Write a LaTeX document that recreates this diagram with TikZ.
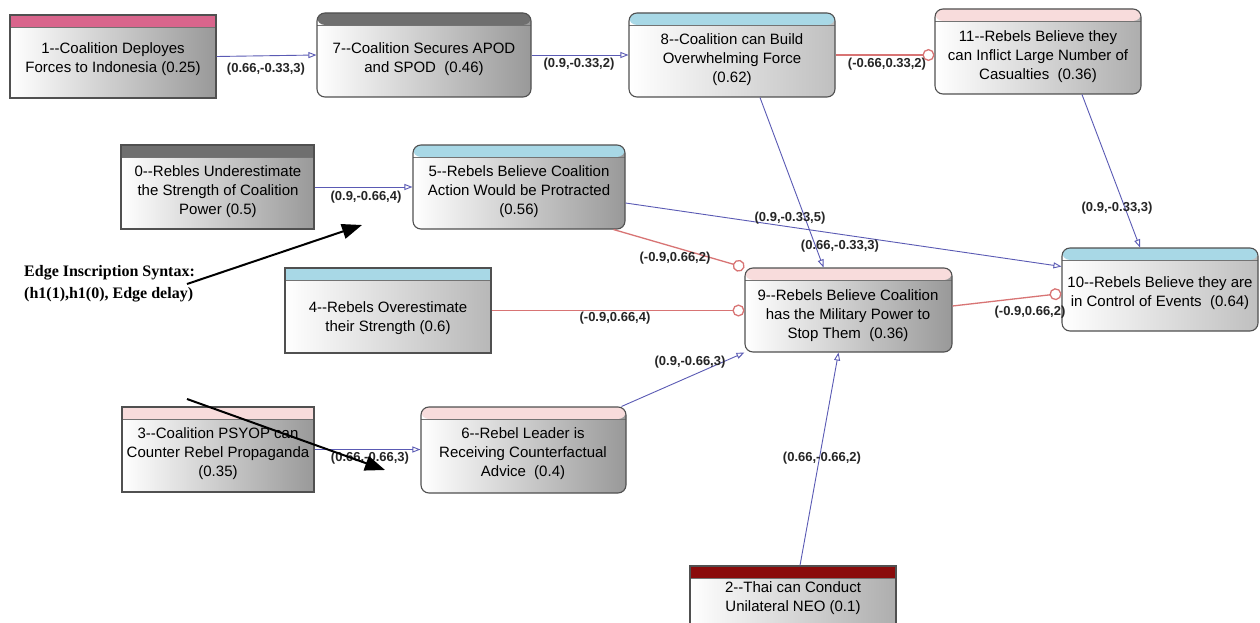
\documentclass[tikz,border=0pt]{standalone}
\usepackage{fontspec}
\setmainfont{Liberation Sans}[Ligatures=TeXOff]
\newfontfamily\annfont{Liberation Serif}
\usetikzlibrary{arrows.meta,fit}
\definecolor{hPink}{HTML}{D9658C}
\definecolor{hGray}{HTML}{6F6F6F}
\definecolor{hBlue}{HTML}{A8D8E6}
\definecolor{hLPink}{HTML}{F8DCDC}
\definecolor{hRed}{HTML}{8A0B0B}
\definecolor{eBlue}{HTML}{5A5AB4}
\definecolor{eRed}{HTML}{D87474}
\definecolor{bdr}{HTML}{505050}
\tikzset{
  box/.style={draw=bdr, line width=1.1pt, inner sep=0pt, left color=white, right color=black!#1},
  box/.default=40,
  rbox/.style={box=#1, rounded corners=8pt},
  rbox/.default=40,
  hdr/.style={path picture={
    \fill[#1] (path picture bounding box.north west) rectangle ([yshift=-12pt]path picture bounding box.north east);
    \draw[line width=0.8pt, black!55] ([yshift=-12pt]path picture bounding box.north west) -- ([yshift=-12pt]path picture bounding box.north east);}},
  txt/.style={align=center, font=\fontsize{15}{19}\selectfont, inner sep=0pt},
  lbl/.style={font=\bfseries\fontsize{13}{15}\selectfont, text=black!85, inner sep=1pt},
  bE/.style={draw=eBlue, line width=0.9pt, -{Triangle[open,length=8pt,width=6pt]}},
  rE/.style={draw=eRed, line width=1.3pt, -{Circle[open,length=12pt,width=12pt]}},
  bigarrow/.style={draw=black, line width=2pt, -{Triangle[length=20pt,width=15pt]}},
}
\begin{document}
\begin{tikzpicture}[x=1pt,y=-1pt]
\clip (0,0) rectangle (1260,623);
\fill[white] (0,0) rectangle (1260,623);
% boxes
\node[box, hdr=hPink, fit={(10,15)(216,98)}] (n1) {};
\node[rbox, hdr=hGray, fit={(317,13)(531,97)}] (n7) {};
\node[rbox=25, hdr=hBlue, fit={(629,13)(835,97)}] (n8) {};
\node[rbox=32, hdr=hLPink, fit={(935,9)(1141,94)}] (n11) {};
\node[box, hdr=hGray, fit={(121,145)(314,229)}] (n0) {};
\node[rbox, hdr=hBlue, fit={(413,145)(625,229)}] (n5) {};
\node[box=28, hdr=hBlue, fit={(285,268)(491,353)}] (n4) {};
\node[rbox, hdr=hLPink, fit={(745,268)(952,352)}] (n9) {};
\node[rbox=25, hdr=hBlue, fit={(1062,248)(1258,331)}] (n10) {};
\node[box, hdr=hLPink, fit={(122,407)(314,492)}] (n3) {};
\node[rbox, hdr=hLPink, fit={(421,407)(626,493)}] (n6) {};
\node[box=32, hdr=hRed, fit={(690,566)(896,650)}] (n2) {};
% texts
\node[txt] (t1) at (113,59) {1--Coalition Deployes\\Forces to Indonesia (0.25)};
\node[txt] (t7) at (424,59) {7--Coalition Secures APOD\\and SPOD~~(0.46)};
\node[txt] (t8) at (732,60) {8--Coalition can Build\\Overwhelming Force\\(0.62)};
\node[txt] (t11) at (1038,57) {11--Rebels Believe they\\can Inflict Large Number of\\Casualties~~(0.36)};
\node[txt] (t0) at (218,192) {0--Rebles Underestimate\\the Strength of Coalition\\Power (0.5)};
\node[txt] (t5) at (519,192) {5--Rebels Believe Coalition\\Action Would be Protracted\\(0.56)};
\node[txt] (t4) at (388,318) {4--Rebels Overestimate\\their Strength (0.6)};
\node[txt] (t9) at (848,316) {9--Rebels Believe Coalition\\has the Military Power to\\Stop Them~~(0.36)};
\node[txt] (t10) at (1160,293) {10--Rebels Believe they are\\in Control of Events~~(0.64)};
\node[txt] (t3) at (218,454) {3--Coalition PSYOP can\\Counter Rebel Propaganda\\(0.35)};
\node[txt] (t6) at (523,454) {6--Rebel Leader is\\Receiving Counterfactual\\Advice~~(0.4)};
\node[txt] (t2) at (793,598) {2--Thai can Conduct\\Unilateral NEO (0.1)};
% edges
\draw[bE] (n1.east) -- (n7.west);
\draw[bE] (n7.east) -- (n8.west);
\draw[rE] (n8.east) -- (n8.east -| n11.west);
\draw[bE] (n0.east) -- (n5.west);
\draw[bE] ([xshift=28pt]n8.south) -- ([xshift=-25pt]n9.north);
\draw[bE] ([xshift=44pt]n11.south) -- ([xshift=-20pt]n10.north);
\draw[bE] ([yshift=-16pt]n5.east) -- ([yshift=23pt]n10.west);
\draw[rE] ([xshift=-12pt]n5.south east) -- (n9.north west);
\draw[rE] (n4.east) -- (n4.east -| n9.west);
\draw[rE] ([yshift=4pt]n9.east) -- ([yshift=-4pt]n10.west);
\draw[bE] (n3.east) -- (n3.east -| n6.west);
\draw[bE] ([xshift=-5pt]n6.north east) -- (n9.south west);
\draw[bE] ([xshift=7pt]n2.north) -- ([xshift=-10pt]n9.south);
% edge labels
\node[lbl] (l17) at (266,69) {(0.66,-0.33,3)};
\node[lbl] (l78) at (579,64) {(0.9,-0.33,2)};
\node[lbl] (l811) at (887,64) {(-0.66,0.33,2)};
\node[lbl] (l05) at (366,197) {(0.9,-0.66,4)};
\node[lbl] (l89) at (790,218) {(0.9,-0.33,5)};
\node[lbl] (l1110) at (1117,208) {(0.9,-0.33,3)};
\node[lbl] (l510) at (840,246) {(0.66,-0.33,3)};
\node[lbl] (l59) at (675,258) {(-0.9,0.66,2)};
\node[lbl] (l49) at (615,318) {(-0.9,0.66,4)};
\node[lbl] (l910) at (1030,312) {(-0.9,0.66,2)};
\node[lbl] (l36) at (370,458) {(0.66,-0.66,3)};
\node[lbl] (l69) at (690,362) {(0.9,-0.66,3)};
\node[lbl] (l29) at (822,458) {(0.66,-0.66,2)};
% annotation
\node[anchor=west, align=left, inner sep=0pt, font=\annfont\bfseries\fontsize{16}{22}\selectfont] (ann) at (24,284) {Edge Inscription Syntax:\\(h1(1),h1(0), Edge delay)};
\coordinate (as1) at (187,284);
\coordinate (ae1) at (362,225);
\coordinate (as2) at (187,399);
\coordinate (ae2) at (385,470);
\draw[bigarrow] (as1) -- (ae1);
\draw[bigarrow] (as2) -- (ae2);
\end{tikzpicture}
\end{document}
